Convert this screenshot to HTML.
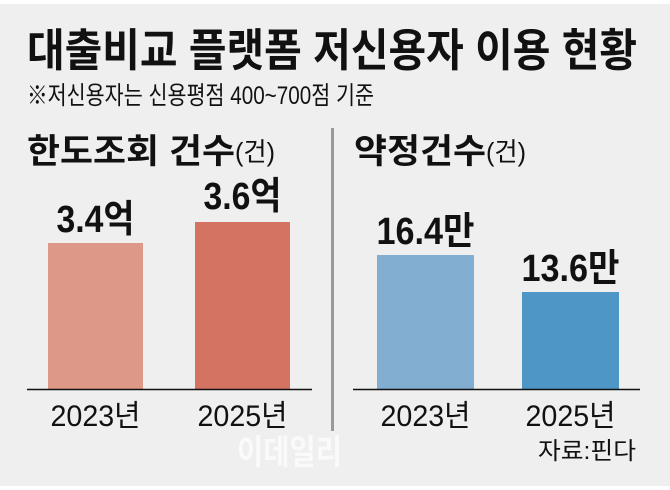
<!DOCTYPE html>
<html><head><meta charset="utf-8"><style>
html,body{margin:0;padding:0;background:#fff}
svg{display:block}
text{font-family:"Liberation Sans","Noto Sans CJK KR",sans-serif;fill:#111}
</style></head><body>
<svg width="670" height="490" viewBox="0 0 670 490" xmlns="http://www.w3.org/2000/svg">
<rect x="0" y="4" width="670" height="482" fill="#efefef"/>
<text x="27" y="66" font-size="45" font-weight="bold" textLength="610" lengthAdjust="spacingAndGlyphs">대출비교 플랫폼 저신용자 이용 현황</text>
<text x="27" y="104" font-size="25" textLength="347" lengthAdjust="spacingAndGlyphs">※저신용자는 신용평점 400~700점 기준</text>
<text x="27" y="163" font-size="34" font-weight="bold" textLength="208" lengthAdjust="spacingAndGlyphs">한도조회 건수</text>
<text x="235" y="161" font-size="26" textLength="40" lengthAdjust="spacingAndGlyphs">(건)</text>
<text x="354" y="163" font-size="34" font-weight="bold" textLength="132" lengthAdjust="spacingAndGlyphs">약정건수</text>
<text x="486" y="161" font-size="26" textLength="40" lengthAdjust="spacingAndGlyphs">(건)</text>
<rect x="331" y="128" width="3" height="303" fill="#999"/>
<rect x="48" y="243" width="95" height="146" fill="#de9888"/>
<rect x="195" y="222" width="95" height="167" fill="#d57363"/>
<line x1="27" y1="389.5" x2="312" y2="389.5" stroke="#111" stroke-width="1.5"/>
<text x="95.5" y="232" font-size="38" font-weight="bold" text-anchor="middle" textLength="78" lengthAdjust="spacingAndGlyphs">3.4억</text>
<text x="242.5" y="209" font-size="38" font-weight="bold" text-anchor="middle" textLength="78" lengthAdjust="spacingAndGlyphs">3.6억</text>
<text x="95.5" y="426" font-size="30" text-anchor="middle" textLength="90" lengthAdjust="spacingAndGlyphs">2023년</text>
<text x="242.5" y="426" font-size="30" text-anchor="middle" textLength="90" lengthAdjust="spacingAndGlyphs">2025년</text>
<rect x="377" y="255" width="97" height="134" fill="#82aed2"/>
<rect x="522" y="292" width="97" height="97" fill="#4d96c5"/>
<line x1="353" y1="389.5" x2="640" y2="389.5" stroke="#111" stroke-width="1.5"/>
<text x="425.5" y="244" font-size="38" font-weight="bold" text-anchor="middle" textLength="98" lengthAdjust="spacingAndGlyphs">16.4만</text>
<text x="570.5" y="281" font-size="38" font-weight="bold" text-anchor="middle" textLength="98" lengthAdjust="spacingAndGlyphs">13.6만</text>
<text x="425.5" y="426" font-size="30" text-anchor="middle" textLength="90" lengthAdjust="spacingAndGlyphs">2023년</text>
<text x="570.5" y="426" font-size="30" text-anchor="middle" textLength="90" lengthAdjust="spacingAndGlyphs">2025년</text>
<text x="237" y="464" font-size="34" font-weight="bold" style="fill:#fafafa" textLength="105" lengthAdjust="spacingAndGlyphs">이데일리</text>
<text x="538" y="459" font-size="24" textLength="98" lengthAdjust="spacingAndGlyphs">자료:핀다</text>
</svg>
</body></html>
